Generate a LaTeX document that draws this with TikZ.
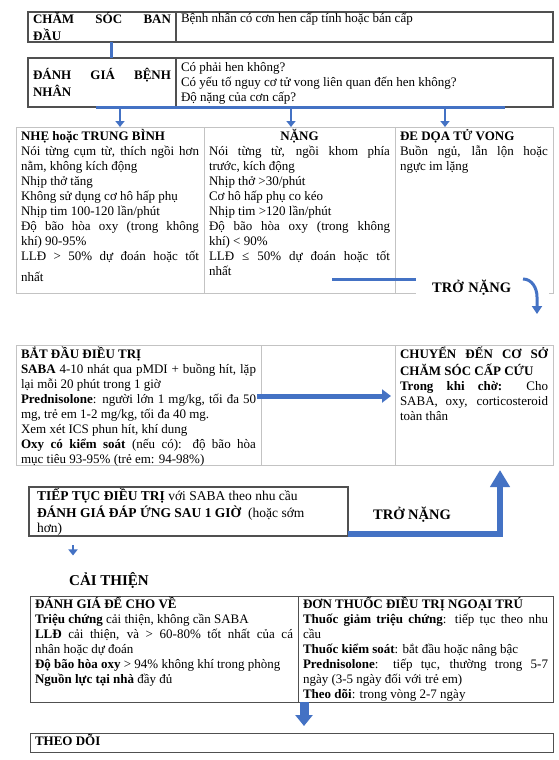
\documentclass[tikz,border=0pt]{standalone}
\usepackage{fontspec}
\setmainfont{Liberation Serif}
\usepackage{tikz}
\usetikzlibrary{arrows.meta, positioning}
\definecolor{flowblue}{RGB}{68,114,196}
\definecolor{boxline}{RGB}{80,80,80}
\definecolor{tabline}{RGB}{195,195,195}
\tolerance=10000
\hbadness=10000
\hyphenpenalty=10000
\newcommand{\cellbox}[4][t]{\parbox[c][#3][#1]{#2}{\strut#4}}

\begin{document}
\begin{tikzpicture}[x=1pt, y=-1pt, font=\fontsize{13}{15}\selectfont, node distance=0pt,
    hdr/.style={draw=boxline, line width=1.1pt, inner xsep=5pt, inner ysep=0pt, outer sep=0pt, anchor=north west},
    cell/.style={draw=tabline, line width=0.9pt, inner xsep=5pt, inner ysep=2pt, outer sep=0pt, anchor=north west},
    dcell/.style={draw=boxline, line width=1pt, inner xsep=5pt, inner ysep=0.5pt, outer sep=0pt, anchor=north west},
    lbl/.style={font=\fontsize{14.5}{16}\selectfont\bfseries},
    conn/.style={flowblue, line width=3pt},
    arr/.style={flowblue, line width=2.5pt, -{Triangle[width=9pt,length=6pt]}},
    curvarr/.style={flowblue, line width=3pt, -{Triangle[width=10pt,length=8pt]}},
    harr/.style={flowblue, line width=5pt, -{Triangle[width=13pt,length=9pt]}},
    uparr/.style={flowblue, line width=6pt, -{Triangle[width=19pt,length=17pt]}},
    fatarr/.style={flowblue, line width=9pt, -{Triangle[width=17pt,length=11pt]}}]
  \useasboundingbox (0,0) rectangle (558,760);

  \node[hdr] (cham) at (28,12)
    {\cellbox{138pt}{30pt}{\textbf{CHĂM SÓC BAN\linebreak ĐẦU}}};
  \node[hdr, right=0pt of cham] (benh)
    {\cellbox{367pt}{30pt}{Bệnh nhân có cơn hen cấp tính hoặc bán cấp}};

  \node[hdr] (danh) at (28,58)
    {\cellbox[c]{138pt}{49pt}{\textbf{ĐÁNH GIÁ BỆNH\linebreak NHÂN}}};
  \node[hdr, right=0pt of danh] (hoi)
    {\cellbox[c]{367pt}{49pt}{Có phải hen không?\\
      Có yếu tố nguy cơ tử vong liên quan đến hen không?\\
      Độ nặng của cơn cấp?}};

  \node[cell] (nhe) at (16,127)
    {\cellbox{178pt}{162pt}{\textbf{NHẸ hoặc TRUNG BÌNH}\\
      Nói từng cụm từ, thích ngồi hơn\linebreak nằm, không kích động\\
      Nhịp thở tăng\\
      Không sử dụng cơ hô hấp phụ\\
      Nhịp tim 100-120 lần/phút\\
      Độ bão hòa oxy (trong không\linebreak khí) 90-95\%\\
      LLĐ > 50\% dự đoán hoặc tốt\linebreak \raisebox{-6pt}{nhất}}};
  \node[cell, right=0pt of nhe] (nang)
    {\cellbox{181pt}{162pt}{\makebox[\linewidth]{\textbf{NẶNG}}\\
      Nói từng từ, ngồi khom phía\linebreak trước, kích động\\
      Nhịp thở >30/phút\\
      Cơ hô hấp phụ co kéo\\
      Nhịp tim >120 lần/phút\\
      Độ bão hòa oxy (trong không\linebreak khí) < 90\%\\
      LLĐ ≤ 50\% dự đoán hoặc tốt\linebreak nhất}};
  \node[cell, right=0pt of nang] (doa)
    {\cellbox{148pt}{162pt}{\textbf{ĐE DỌA TỬ VONG}\\
      Buồn ngủ, lẫn lộn hoặc\linebreak ngực im lặng}};

  \node[cell] (bat) at (16,345)
    {\cellbox{235pt}{116pt}{\textbf{BẮT ĐẦU ĐIỀU TRỊ}\\
      \textbf{SABA} 4-10 nhát qua pMDI + buồng hít, lặp\linebreak lại mỗi 20 phút trong 1 giờ\\
      \textbf{Prednisolone}: người lớn 1 mg/kg, tối đa 50\linebreak mg, trẻ em 1-2 mg/kg, tối đa 40 mg.\\
      Xem xét ICS phun hít, khí dung\\
      \textbf{Oxy có kiểm soát} (nếu có): độ bão hòa\linebreak mục tiêu 93-95\% (trẻ em: 94-98\%)}};
  \node[cell, right=0pt of bat] (giua)
    {\cellbox{124pt}{116pt}{}};
  \node[cell, right=0pt of giua] (chuyen)
    {\cellbox{148pt}{116pt}{\textbf{CHUYỂN ĐẾN CƠ SỞ\linebreak CHĂM SÓC CẤP CỨU}\\
      \textbf{Trong khi chờ:} Cho\linebreak SABA, oxy, corticosteroid\linebreak toàn thân}};

  \node[hdr, inner xsep=8pt, inner ysep=1pt, font=\fontsize{13.5}{15}\selectfont] (tiep) at (29,487)
    {\cellbox[c]{303pt}{47pt}{\textbf{TIẾP TỤC ĐIỀU TRỊ} với SABA theo nhu cầu\\
      \textbf{ĐÁNH GIÁ ĐÁP ỨNG SAU 1 GIỜ}~ (hoặc sớm\\
      hơn)}};

  \node[lbl, font=\fontsize{15}{17}\selectfont\bfseries] (caithien) at (109,580) {CẢI THIỆN};

  \node[dcell] (chove) at (30,596)
    {\cellbox{258pt}{105pt}{\textbf{ĐÁNH GIÁ ĐỂ CHO VỀ}\\
      \textbf{Triệu chứng} cải thiện, không cần SABA\\
      \textbf{LLĐ} cải thiện, và > 60-80\% tốt nhất của cá\linebreak nhân hoặc dự đoán\\
      \textbf{Độ bão hòa oxy} > 94\% không khí trong phòng\\
      \textbf{Nguồn lực tại nhà} đầy đủ}};
  \node[dcell, right=0pt of chove] (donthuoc)
    {\cellbox{245pt}{105pt}{\textbf{ĐƠN THUỐC ĐIỀU TRỊ NGOẠI TRÚ}\\
      \textbf{Thuốc giảm triệu chứng}: tiếp tục theo nhu\linebreak cầu\\
      \textbf{Thuốc kiểm soát}: bắt đầu hoặc nâng bậc\\
      \textbf{Prednisolone}: tiếp tục, thường trong 5-7\linebreak ngày (3-5 ngày đối với trẻ em)\\
      \textbf{Theo dõi}: trong vòng 2-7 ngày}};

  \node[dcell, inner ysep=0pt] (theodoi) at (30,733)
    {\cellbox[c]{513pt}{19pt}{\textbf{THEO DÕI}}};

  \node[lbl, fill=white, anchor=west, text width=101pt, align=left, inner xsep=16pt, inner ysep=3pt]
    (nang1) at (416,288) {TRỞ NẶNG};
  \node[lbl] (nang2) at (412,515) {TRỞ NẶNG};

  \coordinate (barL) at (96,107);
  \coordinate (barR) at (505,107);
  \coordinate (b1) at (120,107);
  \coordinate (b2) at (291,107);
  \coordinate (b3) at (445,107);
  \coordinate (w1) at (332,279);
  \coordinate (c1) at (523,279);
  \coordinate (c1mid) at (537,297);
  \coordinate (c1end) at (537,314);

  \draw[conn] ([xshift=9pt]cham.south) -- ([xshift=9pt]cham.south |- danh.north);
  \draw[conn] (barL) -- (barR);
  \foreach \b/\c in {b1/nhe, b2/nang, b3/doa}
    \draw[arr] (\b) -- (\b |- \c.north);

  \draw[conn] (w1) -- (w1 -| nang1.west);
  \draw[curvarr] (c1) to[out=0, in=90] (c1mid) -- (c1end);

  \draw[harr] ([xshift=-4pt, yshift=9pt]bat.east) -- ([xshift=-4pt, yshift=9pt]chuyen.west);
  \draw[uparr] ([yshift=2pt]tiep.south east) -| ([xshift=26pt, yshift=-5pt]chuyen.south);

  \draw[arr, shorten <=9pt, shorten >=13pt] ([xshift=44pt]tiep.south west)
    -- ([xshift=44pt]tiep.south west |- caithien.north);
  \draw[fatarr, shorten >=7pt] ([xshift=6pt]chove.south east)
    -- ([xshift=6pt]chove.south east |- theodoi.north);
\end{tikzpicture}
\end{document}
